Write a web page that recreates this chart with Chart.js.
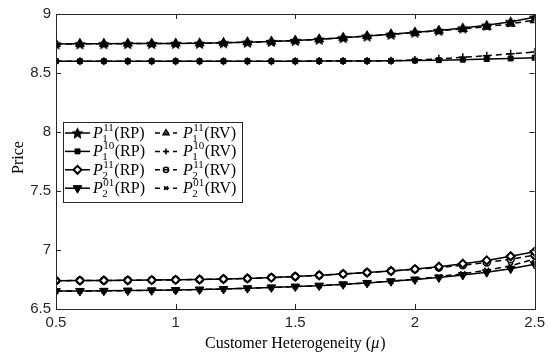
<!DOCTYPE html>
<html>
<head>
<meta charset="utf-8">
<script src="https://cdn.jsdelivr.net/npm/chart.js@4.4.1/dist/chart.umd.min.js"></script>
<style>
  html, body { margin: 0; padding: 0; background: #fff; }
  #wrap { width: 550px; height: 356px; }
</style>
</head>
<body>
<div id="wrap"><canvas id="price-chart" width="550" height="356"></canvas></div>
<script>
// customer heterogeneity mu
const mu = [0.5, 0.6, 0.7, 0.8, 0.9, 1.0, 1.1, 1.2, 1.3, 1.4, 1.5, 1.6, 1.7, 1.8, 1.9, 2.0, 2.1, 2.2, 2.3, 2.4, 2.5];

const p1_11_rp = [8.746, 8.747, 8.748, 8.749, 8.750, 8.751, 8.752, 8.756, 8.761, 8.767, 8.775, 8.786, 8.799, 8.813, 8.828, 8.845, 8.861, 8.881, 8.905, 8.935, 8.972];
const p1_11_rv = [8.746, 8.747, 8.748, 8.749, 8.750, 8.751, 8.752, 8.756, 8.761, 8.767, 8.775, 8.786, 8.799, 8.813, 8.828, 8.843, 8.857, 8.873, 8.893, 8.917, 8.948];
const p1_10_rp = [8.600, 8.600, 8.600, 8.600, 8.600, 8.600, 8.600, 8.600, 8.600, 8.600, 8.600, 8.601, 8.601, 8.602, 8.603, 8.605, 8.609, 8.613, 8.618, 8.623, 8.629];
const p1_10_rv = [8.600, 8.600, 8.600, 8.600, 8.600, 8.600, 8.600, 8.600, 8.600, 8.600, 8.600, 8.601, 8.601, 8.602, 8.604, 8.610, 8.620, 8.633, 8.647, 8.663, 8.678];
const p2_11_rp = [6.740, 6.741, 6.742, 6.743, 6.745, 6.747, 6.750, 6.754, 6.759, 6.766, 6.775, 6.786, 6.797, 6.809, 6.822, 6.838, 6.858, 6.884, 6.912, 6.947, 6.985];
const p2_11_rv = [6.740, 6.741, 6.742, 6.743, 6.745, 6.747, 6.750, 6.754, 6.759, 6.766, 6.775, 6.786, 6.797, 6.809, 6.822, 6.836, 6.851, 6.871, 6.895, 6.922, 6.956];
const p2_01_rp = [6.652, 6.653, 6.654, 6.656, 6.658, 6.661, 6.665, 6.670, 6.676, 6.683, 6.690, 6.698, 6.709, 6.721, 6.735, 6.750, 6.767, 6.788, 6.811, 6.841, 6.880];
const p2_01_rv = [6.652, 6.653, 6.654, 6.656, 6.658, 6.661, 6.665, 6.670, 6.676, 6.683, 6.690, 6.698, 6.709, 6.721, 6.736, 6.753, 6.774, 6.799, 6.829, 6.866, 6.924];

const xTicks = [0.5, 1, 1.5, 2, 2.5];
const yTicks = [6.5, 7, 7.5, 8, 8.5, 9];

const INK = '#000';
const AXIS = '#262626';

// filled five point star as a marker image
function starImage(r) {
  const c = document.createElement('canvas');
  const s = Math.ceil(r * 2 + 2);
  c.width = s; c.height = s;
  const g = c.getContext('2d');
  g.fillStyle = INK;
  g.strokeStyle = INK;
  g.lineWidth = 1;
  g.beginPath();
  for (let i = 0; i < 10; i++) {
    const rr = i % 2 === 0 ? r : r * 0.45;
    const a = -Math.PI / 2 + i * Math.PI / 5;
    const px = s / 2 + rr * Math.cos(a), py = s / 2 + rr * Math.sin(a) + 0.6;
    if (i === 0) g.moveTo(px, py); else g.lineTo(px, py);
  }
  g.closePath();
  g.fill();
  g.stroke();
  return c;
}
const star = starImage(5.5);

function series(label, values, dashed, style) {
  return Object.assign({
    label: label,
    data: mu.map((m, i) => ({ x: m, y: values[i] })),
    borderColor: INK,
    backgroundColor: INK,
    pointBorderColor: INK,
    borderWidth: 1.5,
    borderDash: dashed ? [6, 4] : [],
    pointBorderWidth: 1,
    tension: 0,
    fill: false
  }, style);
}

const datasets = [
  series('P1_11 RP', p1_11_rp, false, { pointStyle: star, pointRadius: 5 }),
  series('P1_10 RP', p1_10_rp, false, { pointStyle: 'rect', pointRadius: 3.5 }),
  series('P2_11 RP', p2_11_rp, false, { pointStyle: 'rectRot', pointRadius: 4, pointBackgroundColor: '#fff', pointBorderWidth: 2 }),
  series('P2_01 RP', p2_01_rp, false, { pointStyle: 'triangle', pointRadius: 5, pointRotation: 180 }),
  series('P1_11 RV', p1_11_rv, true, { pointStyle: 'triangle', pointRadius: 4.5, pointBackgroundColor: 'rgba(0,0,0,0)', pointBorderWidth: 1.5 }),
  series('P1_10 RV', p1_10_rv, true, { pointStyle: 'cross', pointRadius: 4, pointBorderWidth: 1.5 }),
  series('P2_11 RV', p2_11_rv, true, { pointStyle: 'circle', pointRadius: 3.5, pointBackgroundColor: 'rgba(0,0,0,0)', pointBorderWidth: 1.5 }),
  series('P2_01 RV', p2_01_rv, true, { pointStyle: 'crossRot', pointRadius: 3.5, pointBorderWidth: 1.5 })
];

// legend rows: [dataset index, P subscript, P superscript, tag]
const legendRows = [
  [[0, '1', '11', '(RP)'], [4, '1', '11', '(RV)']],
  [[1, '1', '10', '(RP)'], [5, '1', '10', '(RV)']],
  [[2, '2', '11', '(RP)'], [6, '2', '11', '(RV)']],
  [[3, '2', '01', '(RP)'], [7, '2', '01', '(RV)']]
];

const frame = {
  id: 'frame',
  afterDatasetsDraw(chart) {
    const ctx = chart.ctx;
    const a = chart.chartArea;
    const xs = chart.scales.x, ys = chart.scales.y;
    ctx.save();
    ctx.strokeStyle = AXIS;
    ctx.lineWidth = 1;
    ctx.strokeRect(Math.round(a.left) + 0.5, Math.round(a.top) + 0.5, Math.round(a.right - a.left), Math.round(a.bottom - a.top));
    ctx.beginPath();
    xTicks.forEach(v => {
      const px = Math.round(xs.getPixelForValue(v)) + 0.5;
      ctx.moveTo(px, a.bottom); ctx.lineTo(px, a.bottom - 5);
      ctx.moveTo(px, a.top); ctx.lineTo(px, a.top + 5);
    });
    yTicks.forEach(v => {
      const py = Math.round(ys.getPixelForValue(v)) + 0.5;
      ctx.moveTo(a.left, py); ctx.lineTo(a.left + 5, py);
      ctx.moveTo(a.right, py); ctx.lineTo(a.right - 5, py);
    });
    ctx.stroke();

    // axis titles
    ctx.fillStyle = INK;
    ctx.textBaseline = 'alphabetic';
    ctx.font = '16px "Liberation Serif"';
    const t1 = 'Customer Heterogeneity (';
    const t2 = 'μ';
    const t3 = ')';
    const w1 = ctx.measureText(t1).width, w3 = ctx.measureText(t3).width;
    ctx.font = 'italic 16px "Liberation Serif"';
    const w2 = ctx.measureText(t2).width + 1;
    let tx = (a.left + a.right) / 2 - (w1 + w2 + w3) / 2;
    ctx.font = '16px "Liberation Serif"';
    ctx.textAlign = 'left';
    ctx.fillText(t1, tx, 348);
    ctx.font = 'italic 16px "Liberation Serif"';
    ctx.fillText(t2, tx + w1, 348);
    ctx.font = '16px "Liberation Serif"';
    ctx.fillText(t3, tx + w1 + w2, 348);

    ctx.save();
    ctx.translate(23, (a.top + a.bottom) / 2 - 4);
    ctx.rotate(-Math.PI / 2);
    ctx.textAlign = 'center';
    ctx.fillText('Price', 0, 0);
    ctx.restore();

    // legend box inside the axes
    const bx = 63, by = 122, bw = 179, bh = 80;
    ctx.fillStyle = '#fff';
    ctx.fillRect(bx, by, bw, bh);
    ctx.strokeStyle = AXIS;
    ctx.strokeRect(bx + 0.5, by + 0.5, bw, bh);
    const cols = [{ l0: 65, l1: 90, m: 77.5, t: 93 }, { l0: 155, l1: 177, m: 166, t: 183 }];
    legendRows.forEach((row, r) => {
      const cy = 133 + r * 18.4;
      row.forEach((item, c) => {
        const [di, sub, sup, tag] = item;
        const ds = chart.data.datasets[di];
        const col = cols[c];
        ctx.save();
        ctx.strokeStyle = INK;
        ctx.lineWidth = 1.5;
        ctx.setLineDash(ds.borderDash.length ? [5, 4] : []);
        ctx.beginPath();
        ctx.moveTo(col.l0, cy); ctx.lineTo(col.l1, cy);
        ctx.stroke();
        ctx.setLineDash([]);
        ctx.fillStyle = ds.pointBackgroundColor || INK;
        ctx.strokeStyle = INK;
        ctx.lineWidth = ds.pointBorderWidth;
        const small = c === 1 ? 0.75 : 1;
        Chart.helpers.drawPoint(ctx, {
          pointStyle: ds.pointStyle,
          radius: ds.pointRadius * small,
          rotation: ds.pointRotation || 0,
          borderWidth: ds.pointBorderWidth
        }, col.m, cy);
        ctx.restore();

        ctx.fillStyle = INK;
        ctx.textAlign = 'left';
        const base = cy + 5;
        ctx.font = 'italic 16px "Liberation Serif"';
        ctx.fillText('P', col.t, base);
        let x = col.t + ctx.measureText('P').width + 0.5;
        ctx.font = '11px "Liberation Serif"';
        ctx.fillText(sup, x, base - 7);
        ctx.fillText(sub, x - 1, base + 4);
        x += Math.max(ctx.measureText(sup).width, ctx.measureText(sub).width) + 0.5;
        ctx.font = '16px "Liberation Serif"';
        ctx.fillText(tag, x, base);
      });
    });
    ctx.restore();
  }
};

new Chart(document.getElementById('price-chart'), {
  type: 'line',
  data: { datasets: datasets },
  options: {
    responsive: false,
    animation: false,
    devicePixelRatio: 1,
    layout: { padding: { left: 0, right: 11, top: 14, bottom: 0 } },
    plugins: { legend: { display: false }, tooltip: { enabled: false } },
    scales: {
      x: {
        type: 'linear',
        min: 0.5,
        max: 2.5,
        afterFit: s => { s.height = 47; },
        afterBuildTicks: s => { s.ticks = xTicks.map(v => ({ value: v })); },
        grid: { display: false, drawTicks: false },
        border: { display: false },
        ticks: {
          color: '#262626',
          padding: 5,
          font: { family: '"Liberation Sans", Arial, sans-serif', size: 15 },
          maxRotation: 0,
          callback: v => String(v)
        }
      },
      y: {
        min: 6.5,
        max: 9,
        afterFit: s => { s.width = 56; },
        afterBuildTicks: s => { s.ticks = yTicks.map(v => ({ value: v })); },
        grid: { display: false, drawTicks: false },
        border: { display: false },
        ticks: {
          color: '#262626',
          padding: 5,
          font: { family: '"Liberation Sans", Arial, sans-serif', size: 15 },
          callback: v => String(v)
        }
      }
    }
  },
  plugins: [frame]
});
</script>
</body>
</html>
